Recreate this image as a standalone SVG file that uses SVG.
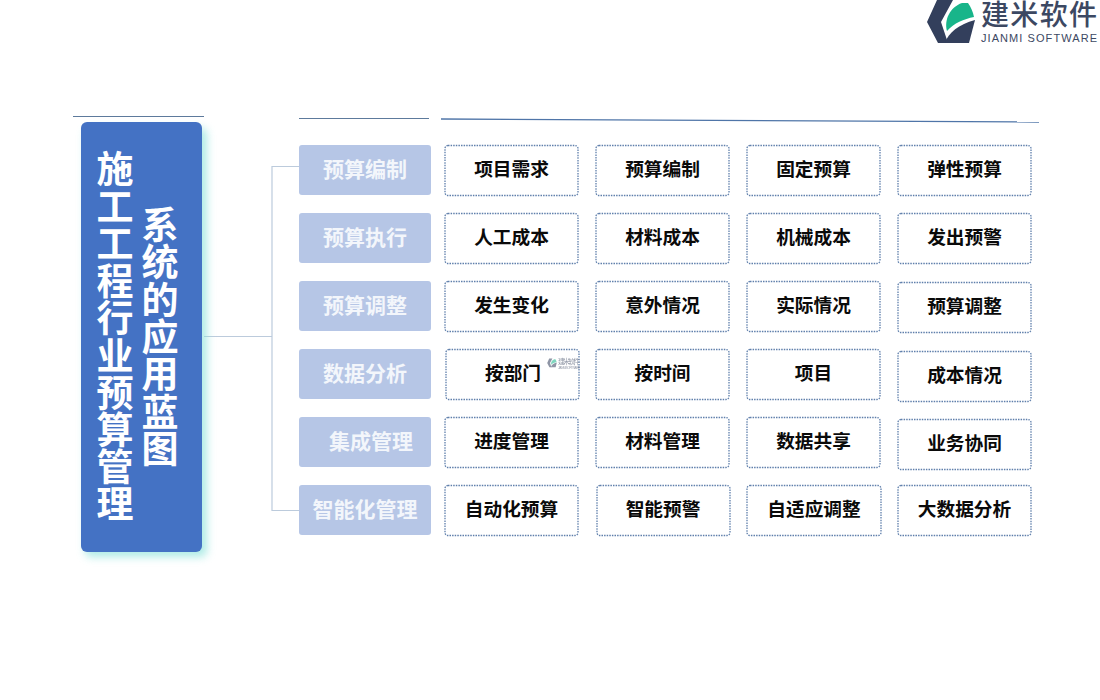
<svg xmlns="http://www.w3.org/2000/svg" width="1100" height="700" viewBox="0 0 1100 700">
<style>
text{font-family:"Noto Sans CJK SC","Liberation Sans",sans-serif}
.cat{fill:#b6c6e6}
.catt{fill:#f3f6fb;font-size:21px;font-weight:700;text-anchor:middle}
.box{fill:#fff;stroke:#5f7fab;stroke-width:1.3;stroke-dasharray:1.5 1.1}
.it{fill:#0a0a0a;font-size:18.700px;font-weight:700;text-anchor:middle}
.title{fill:#fff;font-size:37px;font-weight:700;text-anchor:middle}
.rule{stroke:#5d7a9c;stroke-width:1.2;fill:none}
.conn{stroke:#bccbdc;stroke-width:1.2;fill:none}
</style>
<defs>
<filter id="glow" x="-20%" y="-10%" width="145%" height="125%"><feGaussianBlur stdDeviation="4"/></filter>
<symbol id="mark" viewBox="0 0 50 44">
<path fill="#333f5c" d="M1 22L11 0H27L15 22L22 43H12Z"/>
<path fill="#18b58a" d="M21 31C18 20 24 7 36 3L42 3C45 7 47 12 48 17C38 19 28 23 21 31Z"/>
<path fill="#333f5c" d="M19 43C22 33 33 24 49 20L43 43Z"/>
</symbol>
</defs>
<g id="logo">
<use href="#mark" x="926" y="0" width="50" height="44"/>
<text x="981" y="25" font-size="28" font-weight="500" fill="#3c4862" textLength="116" lengthAdjust="spacing">建米软件</text>
<text x="981" y="42" font-size="11" fill="#3c4862" style='font-family:"Liberation Sans",sans-serif' textLength="116" lengthAdjust="spacing">JIANMI SOFTWARE</text>
</g>
<g id="rules">
<line class="rule" x1="73" y1="116.500" x2="204" y2="116.500"/>
<line class="rule" x1="299" y1="118.500" x2="429" y2="118.500"/>
<line x1="441" y1="119" x2="1039" y2="122" stroke="#4f75a8" stroke-width="1.400"/>
</g>
<g id="connectors">
<path class="conn" d="M204 336.500H272M299 166.500H272V510.500H299"/>
</g>
<g id="main">
<rect x="85" y="128" width="122" height="429" rx="6" fill="#8ee3dc" opacity=".7" filter="url(#glow)"/>
<rect x="81" y="122" width="121" height="430" rx="6" fill="#4472c4"/>
<text class="title" x="115 115 115 115 115 115 115 115 115 115" y="183 221 258 295 332 370 407 444 481 518">施工工程行业预算管理</text>
<text class="title" x="160 160 160 160 160 160 160" y="239 276 314 351 388 426 463">系统的应用蓝图</text>
</g>
<g id="cat1"><rect class="cat" x="299" y="145" width="132" height="50" rx="3"/><text class="catt" x="365" y="177">预算编制</text></g>
<g id="cat2"><rect class="cat" x="299" y="213" width="132" height="50" rx="3"/><text class="catt" x="365" y="245">预算执行</text></g>
<g id="cat3"><rect class="cat" x="299" y="281" width="132" height="50" rx="3"/><text class="catt" x="365" y="313">预算调整</text></g>
<g id="cat4"><rect class="cat" x="299" y="349" width="132" height="50" rx="3"/><text class="catt" x="365" y="381">数据分析</text></g>
<g id="cat5"><rect class="cat" x="299" y="417" width="132" height="50" rx="3"/><text class="catt" x="371" y="449">集成管理</text></g>
<g id="cat6"><rect class="cat" x="299" y="485" width="132" height="50" rx="3"/><text class="catt" x="365" y="517">智能化管理</text></g>

<g id="r1c1"><rect class="box" x="445" y="145.500" width="133" height="50" rx="3"/><text class="it" x="511.500" y="176">项目需求</text></g>
<g id="r1c2"><rect class="box" x="596" y="145.500" width="133" height="50" rx="3"/><text class="it" x="662.500" y="176">预算编制</text></g>
<g id="r1c3"><rect class="box" x="747" y="145.500" width="133" height="50" rx="3"/><text class="it" x="813.500" y="176">固定预算</text></g>
<g id="r1c4"><rect class="box" x="898" y="145.500" width="133" height="50" rx="3"/><text class="it" x="964.500" y="176">弹性预算</text></g>

<g id="r2c1"><rect class="box" x="445" y="213.500" width="133" height="50" rx="3"/><text class="it" x="511.500" y="244">人工成本</text></g>
<g id="r2c2"><rect class="box" x="596" y="213.500" width="133" height="50" rx="3"/><text class="it" x="662.500" y="244">材料成本</text></g>
<g id="r2c3"><rect class="box" x="747" y="213.500" width="133" height="50" rx="3"/><text class="it" x="813.500" y="244">机械成本</text></g>
<g id="r2c4"><rect class="box" x="898" y="213.500" width="133" height="50" rx="3"/><text class="it" x="964.500" y="244">发出预警</text></g>

<g id="r3c1"><rect class="box" x="445" y="281.500" width="133" height="50" rx="3"/><text class="it" x="511.500" y="312">发生变化</text></g>
<g id="r3c2"><rect class="box" x="596" y="281.500" width="133" height="50" rx="3"/><text class="it" x="662.500" y="312">意外情况</text></g>
<g id="r3c3"><rect class="box" x="747" y="281.500" width="133" height="50" rx="3"/><text class="it" x="813.500" y="312">实际情况</text></g>
<g id="r3c4"><rect class="box" x="898" y="282.500" width="133" height="50" rx="3"/><text class="it" x="964.500" y="313">预算调整</text></g>

<g id="r4c1"><rect class="box" x="446" y="349.500" width="133" height="50" rx="3"/><text class="it" x="513" y="380">按部门</text></g>
<g id="r4c2"><rect class="box" x="596" y="349.500" width="133" height="50" rx="3"/><text class="it" x="662.500" y="380">按时间</text></g>
<g id="r4c3"><rect class="box" x="747" y="349.500" width="133" height="50" rx="3"/><text class="it" x="813.500" y="380">项目</text></g>
<g id="r4c4"><rect class="box" x="898" y="351.500" width="133" height="50" rx="3"/><text class="it" x="964.500" y="382">成本情况</text></g>

<g id="r5c1"><rect class="box" x="445" y="417.500" width="133" height="50" rx="3"/><text class="it" x="511.500" y="448">进度管理</text></g>
<g id="r5c2"><rect class="box" x="596" y="417.500" width="133" height="50" rx="3"/><text class="it" x="662.500" y="448">材料管理</text></g>
<g id="r5c3"><rect class="box" x="747" y="417.500" width="133" height="50" rx="3"/><text class="it" x="813.500" y="448">数据共享</text></g>
<g id="r5c4"><rect class="box" x="898" y="419.500" width="133" height="50" rx="3"/><text class="it" x="964.500" y="450">业务协同</text></g>

<g id="r6c1"><rect class="box" x="445" y="485.500" width="133" height="50" rx="3"/><text class="it" x="511.500" y="516">自动化预算</text></g>
<g id="r6c2"><rect class="box" x="597" y="485.500" width="133" height="50" rx="3"/><text class="it" x="663" y="516">智能预警</text></g>
<g id="r6c3"><rect class="box" x="747" y="485.500" width="134" height="50" rx="3"/><text class="it" x="814" y="516">自适应调整</text></g>
<g id="r6c4"><rect class="box" x="898" y="485.500" width="133" height="50" rx="3"/><text class="it" x="964.500" y="516">大数据分析</text></g>

<g id="watermark" opacity=".55">
<use href="#mark" x="547" y="356" width="10" height="14"/>
<text x="558" y="364" font-size="7" fill="#3c4862" textLength="22" lengthAdjust="spacing">建米软件</text>
<text x="558" y="369" font-size="3" fill="#3c4862" style='font-family:"Liberation Sans",sans-serif' textLength="22" lengthAdjust="spacing">JIANMI SOFTWARE</text>
</g>
</svg>
